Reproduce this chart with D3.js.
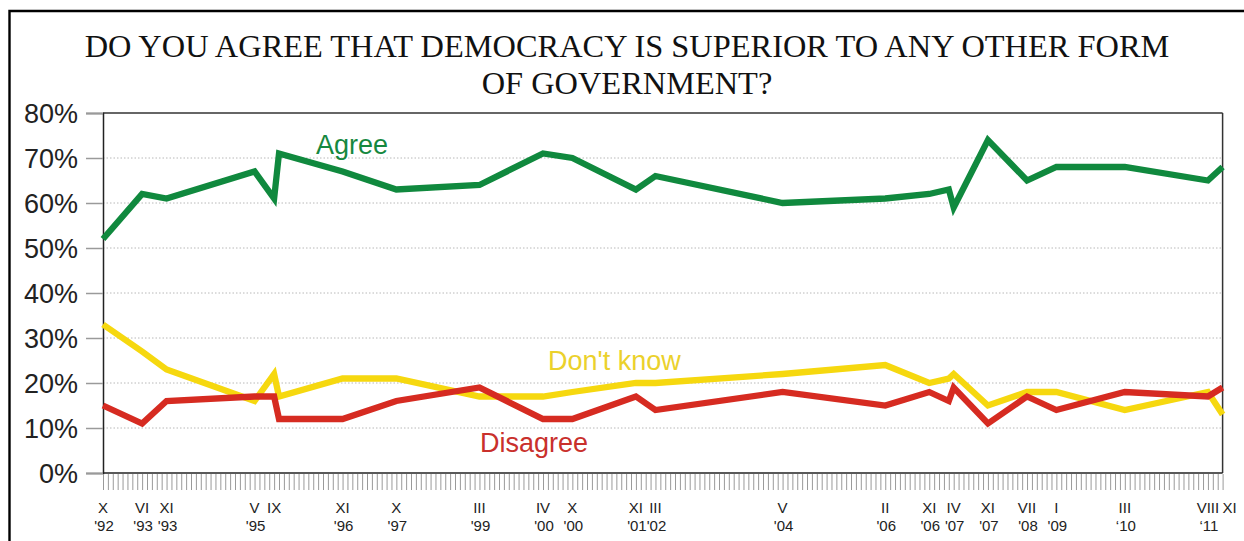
<!DOCTYPE html>
<html>
<head>
<meta charset="utf-8">
<script src="https://cdn.jsdelivr.net/npm/d3@7"></script>
<style>
  html, body { margin: 0; padding: 0; background: #fff; }
  svg { display: block; }
</style>
</head>
<body>
<svg id="chart" width="1244" height="541"></svg>
<script>
// ---- Data (month index 0 = October 1992) ----
const surveyMonths = [0, 8, 13, 31, 35, 36, 49, 60, 77, 90, 96, 109, 113, 139, 160, 169, 173, 174, 181, 189, 195, 209, 226, 229];
const agree    = [52, 62, 61, 67, 61, 71, 67, 63, 64, 71, 70, 63, 66, 60, 61, 62, 63, 59, 74, 65, 68, 68, 65, 68];
const dontKnow = [33, 27, 23, 16, 22, 17, 21, 21, 17, 17, 18, 20, 20, 22, 24, 20, 21, 22, 15, 18, 18, 14, 18, 13];
const disagree = [15, 11, 16, 17, 17, 12, 12, 16, 19, 12, 12, 17, 14, 18, 15, 18, 16, 19, 11, 17, 14, 18, 17, 19];

const tickMonths = [0, 8, 13, 31, 35, 49, 60, 77, 90, 96, 109, 113, 139, 160, 169, 174, 181, 189, 195, 209, 226, 229];
const tickRoman  = ["X", "VI", "XI", "V", "IX", "XI", "X", "III", "IV", "X", "XI", "III", "V", "II", "XI", "IV", "XI", "VII", "I", "III", "VIII", "XI"];
const tickYear   = ["'92", "'93", "'93", "'95", "", "'96", "'97", "'99", "'00", "'00", "'01", "'02", "'04", "'06", "'06", "'07", "'07", "'08", "'09", "\u201810", "\u201811", ""];

const yTicks = [0, 10, 20, 30, 40, 50, 60, 70, 80];
const titleLines = ["DO YOU AGREE THAT DEMOCRACY IS SUPERIOR TO ANY OTHER FORM", "OF GOVERNMENT?"];

const seriesNames = ["Agree", "Don't know", "Disagree"];
const seriesValues = [agree, dontKnow, disagree];
const seriesColors = ["#10893e", "#f6d80f", "#d62b21"];
const labelColors  = ["#16883f", "#ebd12c", "#c9302c"];

// ---- Layout ----
const svg = d3.select("#chart");
const pLeft = 103, pRight = 1222.6, pTop = 113, pBottom = 473;
const x = d3.scaleLinear().domain([0, 229]).range([pLeft, pRight]);
const y = d3.scaleLinear().domain([0, 80]).range([pBottom, pTop]);

svg.append("rect").attr("width", 1244).attr("height", 541).attr("fill", "#fff");

// outer frame (cut by the window at right and bottom)
svg.append("path")
  .attr("d", "M9.5,541V11H1244")
  .attr("fill", "none").attr("stroke", "#000").attr("stroke-width", 2.4);

// title
svg.append("g").selectAll("text").data(titleLines).join("text")
  .attr("x", 627).attr("y", (d, i) => 57 + i * 36.5)
  .attr("text-anchor", "middle")
  .attr("font-family", "'Liberation Serif', 'Times New Roman', serif")
  .attr("font-size", 32.4)
  .attr("fill", "#111")
  .text(d => d);

// gridlines
svg.append("g").selectAll("line").data(yTicks.filter(v => v > 0 && v < 80)).join("line")
  .attr("x1", pLeft).attr("x2", pRight)
  .attr("y1", d => y(d)).attr("y2", d => y(d))
  .attr("stroke", "#b8b8b8").attr("stroke-width", 1)
  .attr("stroke-dasharray", "1.5,2");

// plot frame top and right
svg.append("line").attr("x1", pLeft).attr("x2", pRight).attr("y1", y(80)).attr("y2", y(80))
  .attr("stroke", "#333").attr("stroke-width", 1.5);
svg.append("line").attr("x1", pRight).attr("x2", pRight).attr("y1", y(80)).attr("y2", y(0))
  .attr("stroke", "#333").attr("stroke-width", 1.5);

// y axis
const yAxis = svg.append("g").attr("transform", `translate(${pLeft},0)`)
  .call(d3.axisLeft(y).tickValues(yTicks).tickSize(17).tickPadding(8).tickFormat(d => d + "%"));
yAxis.select(".domain").attr("stroke", "#222").attr("stroke-width", 1.5);
yAxis.selectAll(".tick line").attr("stroke", "#9a9a9a").attr("stroke-width", 1.5);
yAxis.selectAll(".tick text")
  .attr("font-family", "'Liberation Sans', Arial, sans-serif")
  .attr("font-size", 27).attr("fill", "#222").attr("dy", "0.35em");

// monthly minor ticks
const xAxis = svg.append("g").attr("transform", `translate(0,${pBottom + 1})`)
  .call(d3.axisBottom(x).tickValues(d3.range(0, 230)).tickSize(16).tickFormat(""));
xAxis.select(".domain").remove();
xAxis.selectAll(".tick line").attr("stroke", "#9a9a9a").attr("stroke-width", 1);

// x axis line
svg.append("line").attr("x1", pLeft).attr("x2", pRight).attr("y1", pBottom).attr("y2", pBottom)
  .attr("stroke", "#222").attr("stroke-width", 1.5);

// x labels
const lastIdx = tickMonths.length - 1;
const xl = svg.append("g")
  .attr("font-family", "'Liberation Sans', Arial, sans-serif")
  .attr("font-size", 15).attr("fill", "#222");
xl.selectAll("text.m").data(tickMonths).join("text").attr("class", "m")
  .attr("x", (d, i) => i === lastIdx ? x(d) : x(d))
  .attr("y", 513)
  .attr("text-anchor", (d, i) => i === lastIdx ? "start" : "middle")
  .text((d, i) => tickRoman[i]);
xl.selectAll("text.yr").data(tickMonths).join("text").attr("class", "yr")
  .attr("x", d => x(d) + 1).attr("y", 530.5)
  .attr("text-anchor", "middle")
  .text((d, i) => tickYear[i]);

// lines
const line = d3.line().x(d => x(d[0])).y(d => y(d[1]));
const order = [0, 1, 2];
svg.append("g").selectAll("path").data(order).join("path")
  .attr("d", i => line(surveyMonths.map((m, j) => [m, seriesValues[i][j]])))
  .attr("fill", "none")
  .attr("stroke", i => seriesColors[i])
  .attr("stroke-width", 6.3)
  .attr("stroke-linejoin", "miter")
  .attr("stroke-miterlimit", 4);

// series labels
const labelX = [316, 548, 480];
const labelY = [154, 369.5, 451.5];
svg.append("g").selectAll("text").data(order).join("text")
  .attr("x", i => labelX[i])
  .attr("y", i => labelY[i])
  .attr("font-family", "'Liberation Sans', Arial, sans-serif")
  .attr("font-size", 27)
  .attr("fill", i => labelColors[i])
  .text(i => seriesNames[i]);
</script>
</body>
</html>
